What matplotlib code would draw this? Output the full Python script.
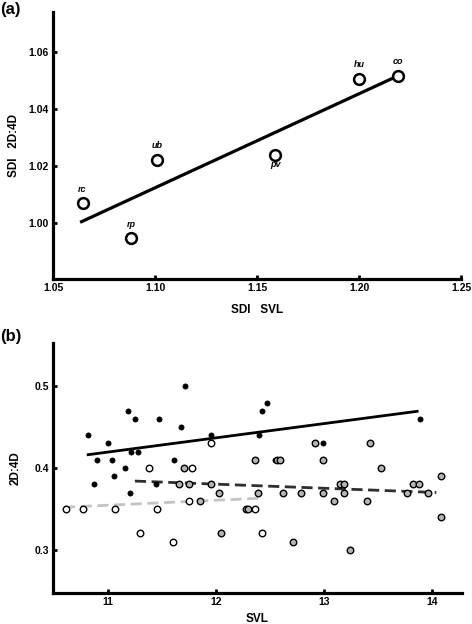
import matplotlib.pyplot as plt

plt.rcParams['font.family'] = ['Liberation Sans', 'DejaVu Sans']

# ---- panel (a) data: species means ----
species = ['rc', 'rp', 'ub', 'pv', 'hu', 'co']
sdi_svl = [1.0645, 1.0883, 1.101, 1.159, 1.2001, 1.219]
sdi_digit = [1.0069, 0.9946, 1.0221, 1.0239, 1.0505, 1.0516]
label_below = ['pv']
fit_a_x = [1.064, 1.216]
fit_a_y = [1.0005, 1.0506]

# ---- panel (b) data: individuals ----
black_svl = [10.815, 10.90, 10.877, 11.006, 11.037, 11.058, 11.157, 11.185, 11.25, 11.22,
             11.277, 11.206, 11.443, 11.47, 11.677, 11.615, 11.717, 11.957, 12.397, 12.425,
             12.477, 12.548, 12.994, 13.886]
black_ratio = [0.44, 0.41, 0.38, 0.43, 0.41, 0.39, 0.40, 0.47, 0.46, 0.42,
               0.42, 0.37, 0.38, 0.46, 0.45, 0.41, 0.50, 0.44, 0.44, 0.47,
               0.48, 0.41, 0.43, 0.46]

open_svl = [10.618, 10.769, 11.068, 11.38, 11.298, 11.458, 11.606, 11.748, 11.778, 11.957,
            12.43, 12.363]
open_ratio = [0.35, 0.35, 0.35, 0.40, 0.32, 0.35, 0.31, 0.36, 0.40, 0.43,
              0.32, 0.35]

gray_svl = [11.708, 11.658, 11.748, 11.852, 11.957, 12.031, 12.046, 12.274, 12.298, 12.357,
            12.391, 12.563, 12.594, 12.62, 12.714, 12.79, 12.914, 12.994, 12.994, 13.092,
            13.15, 13.188, 13.185, 13.243, 13.394, 13.425, 13.523, 13.763, 13.822, 13.874,
            13.96, 14.083, 14.083]
gray_ratio = [0.40, 0.38, 0.38, 0.36, 0.38, 0.37, 0.32, 0.35, 0.35, 0.41,
              0.37, 0.41, 0.41, 0.37, 0.31, 0.37, 0.43, 0.41, 0.37, 0.36,
              0.38, 0.38, 0.37, 0.30, 0.36, 0.43, 0.40, 0.37, 0.38, 0.38,
              0.37, 0.39, 0.34]

fit_black_x = [10.82, 13.86]
fit_black_y = [0.4163, 0.4694]
fit_gray_x = [11.252, 14.037]
fit_gray_y = [0.384, 0.370]
fit_open_x = [10.597, 12.412]
fit_open_y = [0.352, 0.363]


def style_axis(ax):
    for side in ['top', 'right']:
        ax.spines[side].set_visible(False)
    for side in ['left', 'bottom']:
        ax.spines[side].set_linewidth(2.3)
    ax.tick_params(direction='in', length=3, width=2, labelsize=7.5, pad=3)
    for lab in ax.get_xticklabels() + ax.get_yticklabels():
        lab.set_fontweight('bold')


fig = plt.figure(figsize=(4.72, 6.24), dpi=100)

############# Panel (a) ################
ax = fig.add_axes([0.1123, 0.5529, 0.8644, 0.4279])
ax.plot(fit_a_x, fit_a_y, color='black', linewidth=2.3, zorder=2)
ax.scatter(sdi_svl, sdi_digit, s=60, facecolor='white', edgecolor='black', linewidth=1.8, zorder=3)
for name, x, y in zip(species, sdi_svl, sdi_digit):
    if name in label_below:
        ax.text(x, y - 0.0035, name, ha='center', va='center', fontsize=6.5,
                fontstyle='italic', fontweight='bold')
    else:
        ax.text(x, y + 0.0050, name, ha='center', va='center', fontsize=6.5,
                fontstyle='italic', fontweight='bold')
ax.set_xlim(1.05, 1.25)
ax.set_ylim(0.9804, 1.074)
ax.set_xticks([1.05, 1.10, 1.15, 1.20, 1.25])
ax.set_xticklabels(['1.05', '1.10', '1.15', '1.20', '1.25'])
ax.set_yticks([1.00, 1.02, 1.04, 1.06])
ax.set_yticklabels(['1.00', '1.02', '1.04', '1.06'])
style_axis(ax)
ax.set_xlabel('SDI   SVL', fontsize=8.5, fontweight='bold', labelpad=8)
ax.set_ylabel('SDI   2D:4D', fontsize=8.5, fontweight='bold', labelpad=6)
fig.text(0.0, 0.984, '(a)', fontsize=12, fontweight='bold', va='center', ha='left')

############# Panel (b) ################
ax = fig.add_axes([0.1123, 0.0497, 0.8655, 0.4006])
ax.scatter(black_svl, black_ratio, s=14, facecolor='black', edgecolor='black', linewidth=0.5, zorder=3)
ax.scatter(open_svl, open_ratio, s=22, facecolor='white', edgecolor='black', linewidth=1.0, zorder=3)
ax.scatter(gray_svl, gray_ratio, s=22, facecolor='#b4b4b4', edgecolor='black', linewidth=1.0, zorder=3)
ax.plot(fit_black_x, fit_black_y, color='black', linewidth=2.0, zorder=2)
ax.plot(fit_gray_x, fit_gray_y, color='#2e2e2e', linewidth=2.0, linestyle=(0, (4, 2)), zorder=2)
ax.plot(fit_open_x, fit_open_y, color='#c4c4c4', linewidth=2.0, linestyle=(0, (4, 2)), zorder=2)
ax.set_xlim(10.495, 14.27)
ax.set_ylim(0.247, 0.553)
ax.set_xticks([11, 12, 13, 14])
ax.set_yticks([0.3, 0.4, 0.5])
ax.set_yticklabels(['0.3', '0.4', '0.5'])
style_axis(ax)
ax.set_xlabel('SVL', fontsize=8.5, fontweight='bold', labelpad=4)
ax.set_ylabel('2D:4D', fontsize=8.5, fontweight='bold', labelpad=9)
fig.text(0.0, 0.46, '(b)', fontsize=12, fontweight='bold', va='center', ha='left')

plt.savefig('out.png', dpi=100)
plt.close()
